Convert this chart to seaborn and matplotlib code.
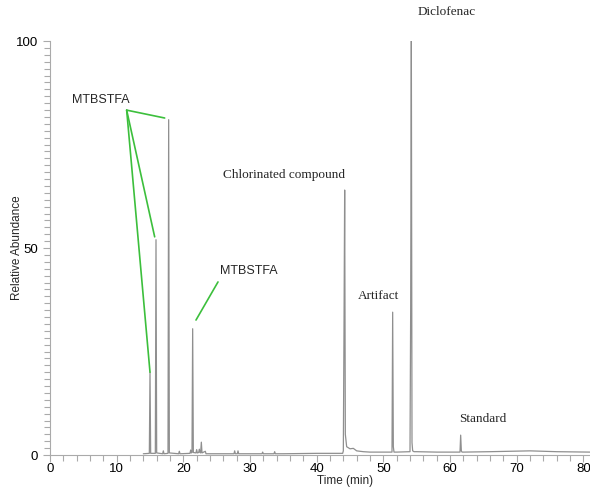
# chromatogram: relative abundance vs retention time, with peak labels

import seaborn as sns
import pandas as pd
import matplotlib.pyplot as plt
import numpy as np
from matplotlib.ticker import MultipleLocator, FixedLocator

sns.set_style("ticks")
plt.rcParams['font.family'] = ['Liberation Sans', 'DejaVu Sans']

# trace (time in min, relative abundance in %)
time_min = [14.0, 14.9, 15.0, 15.1, 15.8, 15.9, 16.0, 16.9, 17.0, 17.1,
            17.7, 17.8, 17.9, 19.3, 19.4, 19.5, 21.0, 21.1, 21.2, 21.3,
            21.4, 21.5, 21.9, 22.0, 22.1, 22.3, 22.4, 22.5, 22.6, 22.7,
            22.8, 23.3, 23.4, 27.6, 27.7, 27.8, 28.1, 28.2, 28.3, 31.8,
            31.9, 32.0, 33.6, 33.7, 33.8, 35.0, 40.0, 43.9, 44.0, 44.1,
            44.2, 44.3, 44.5, 45.0, 45.5, 46.0, 47.0, 48.0, 50.0, 51.3,
            51.4, 51.5, 51.6, 52.0, 54.0, 54.1, 54.2, 54.3, 54.4, 54.6,
            55.0, 58.0, 61.5, 61.6, 61.7, 61.8, 62.0, 66.0, 72.0, 76.0,
            81.0]
abundance = [0.3, 0.4, 20.0, 0.4, 0.4, 52.0, 0.5, 0.3, 1.0, 0.3,
             0.4, 81.0, 0.5, 0.3, 0.9, 0.3, 0.4, 1.2, 0.5, 0.6,
             30.5, 0.6, 0.5, 1.3, 0.5, 0.6, 1.4, 0.6, 0.5, 3.1,
             0.5, 0.9, 0.3, 0.3, 1.0, 0.3, 0.3, 1.0, 0.3, 0.3,
             0.7, 0.3, 0.3, 0.8, 0.3, 0.3, 0.4, 0.4, 1.0, 30.0,
             64.0, 5.0, 2.0, 1.5, 1.6, 1.0, 0.8, 0.7, 0.7, 0.7,
             34.5, 2.0, 0.7, 0.7, 0.8, 35.0, 100.0, 3.0, 1.0, 0.8,
             0.8, 0.7, 0.7, 4.8, 1.0, 0.7, 0.7, 0.8, 1.0, 0.8,
             0.7]

# peak labels: text, x, y, font
labels = ["MTBSTFA", "MTBSTFA", "Chlorinated compound", "Diclofenac", "Artifact", "Standard"]
label_x = [3.3, 25.5, 35.1, 59.5, 49.2, 64.9]
label_y = [85.7, 44.4, 67.6, 107.0, 38.4, 8.7]
label_serif = [False, False, True, True, True, True]

# green pointer lines (start -> end)
line_x0 = [11.5, 11.5, 11.5, 25.2]
line_y0 = [83.3, 83.3, 83.3, 41.8]
line_x1 = [17.2, 15.7, 15.0, 21.9]
line_y1 = [81.4, 52.7, 20.0, 32.6]

df = pd.DataFrame({"Time": time_min, "Abundance": abundance})

fig = plt.figure(figsize=(5.9, 4.87), dpi=100)
ax = fig.add_axes([50/590, 32/487, 540/590, 414/487])

sns.lineplot(data=df, x="Time", y="Abundance", estimator=None, sort=False,
             color='#8f8f8f', linewidth=0.9, ax=ax)

for i in range(len(line_x0)):
    ax.plot([line_x0[i], line_x1[i]], [line_y0[i], line_y1[i]], color='#3cbf3c', linewidth=1.2)

for i, lab in enumerate(labels):
    if label_serif[i]:
        ax.text(label_x[i], label_y[i], lab, family='Liberation Serif', fontsize=9.5,
                ha='center', va='center', clip_on=False)
    else:
        ax.text(label_x[i], label_y[i], lab, fontsize=9,
                ha='left', va='center', clip_on=False)

ax.set_xlim(0, 81)
ax.set_ylim(0, 100)
ax.set_xticks([0, 10, 20, 30, 40, 50, 60, 70, 80])
ax.xaxis.set_minor_locator(MultipleLocator(2))
ax.set_yticks([0, 50, 100])
ax.yaxis.set_minor_locator(FixedLocator(np.arange(0, 100.1, 50/30)))
ax.tick_params(which='both', colors='#aaaaaa', labelcolor='black', labelsize=9.5, width=0.8)
ax.tick_params(which='major', length=5)
ax.tick_params(axis='x', which='major', pad=1)
ax.tick_params(which='minor', length=4)
ax.set_xlabel('')
ax.set_ylabel('')

for axis in ['left', 'bottom']:
    ax.spines[axis].set_linewidth(0.8)
    ax.spines[axis].set_color('#aaaaaa')
ax.spines['top'].set_visible(False)
ax.spines['right'].set_visible(False)

fig.text(17/590, 1 - 248/487, 'Relative Abundance', fontsize=8.5, rotation=90,
         ha='center', va='center')
fig.text(345/590, 0, 'Time (min)', fontsize=8.5, ha='center', va='bottom')

fig.savefig('out.png', dpi=100)
